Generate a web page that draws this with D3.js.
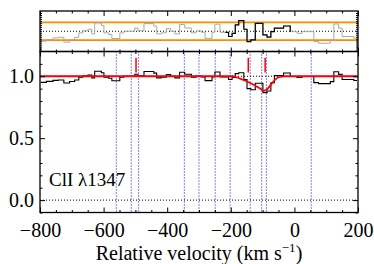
<!DOCTYPE html>
<html><head><meta charset="utf-8">
<script src="https://cdn.jsdelivr.net/npm/d3@7"></script>
<style>
html,body{margin:0;padding:0;background:#fff;}
svg{display:block;}
text{font-family:"Liberation Serif","Times New Roman",serif;fill:#000;}
</style></head>
<body>
<svg id="c" width="374" height="264"></svg>
<script>
// ---- data ----
const binEdges = [-798,-780,-759,-743,-725,-707,-691,-678,-665,-649,-637,-628,-607,-599,-584,-574,-549,-536,-502,-492,-473,-442,-433,-419,-403,-389,-376,-361,-345,-324,-309,-293,-281,-259,-250,-234,-217,-207,-196,-186,-175,-159,-149,-137,-123,-99,-86,-74,-63,-34,-13,8,24,61,76,113,124,139,150,187,197];
const flux = [0.951,0.959,0.967,0.970,0.946,0.958,0.970,0.992,1.003,1.010,0.987,1.041,1.029,0.992,0.984,0.964,0.992,1.000,1.016,1.003,1.038,1.025,0.987,0.992,1.013,1.000,0.987,1.033,1.016,0.992,1.002,0.995,0.965,0.995,1.035,0.995,0.994,0.974,0.990,1.021,1.029,0.973,0.900,0.891,0.944,0.868,0.881,0.948,1.005,1.026,0.998,0.990,0.998,0.949,0.941,0.957,1.036,1.015,0.974,0.966];
const residual = [-0.049,-0.041,-0.033,-0.030,-0.054,-0.042,-0.030,-0.008,0.003,0.010,-0.013,0.041,0.029,-0.008,-0.016,-0.036,-0.008,0.000,0.016,0.003,0.038,0.025,-0.013,-0.008,0.013,0.000,-0.013,0.033,0.016,-0.008,0.002,-0.005,-0.035,-0.005,0.035,-0.005,-0.006,-0.026,-0.010,0.031,0.052,0.010,-0.051,-0.043,0.039,-0.018,-0.029,-0.002,0.015,0.026,-0.002,-0.010,-0.002,-0.051,-0.059,-0.043,0.036,0.015,-0.026,-0.034];
const fitRange = [-217,-13];
const fitVel  = [-800,-195,-180,-165,-149,-128,-107,-96,-86,-70,-55,-40,-30,200];
const fitFlux = [1,1,0.99,0.975,0.958,0.931,0.899,0.883,0.895,0.945,0.985,0.998,1,1];
const componentVel = [-560,-513,-490,-346,-300,-249,-202,-139,-103,-88,53];
const markerVel = [-498,-145,-92];
const errBand = 0.044;
const xTicks = [-800,-600,-400,-200,0,200];
const yTicks = [0,0.5,1.0];
const lineLabel = "ClI λ1347";

// ---- layout ----
const L=40, R=358, mainTop=51.5, mainBot=212.5, topTop=11;
const svg=d3.select("#c");
const x=d3.scaleLinear([-800,200],[L,R]);
const y=d3.scaleLinear([-0.1,1.2],[mainBot,mainTop]);
const yr=d3.scaleLinear([-0.1,0.1],[mainTop,topTop]);

const defs=svg.append("defs");
defs.append("clipPath").attr("id","cm").append("rect").attr("x",L).attr("y",mainTop).attr("width",R-L).attr("height",mainBot-mainTop);
defs.append("clipPath").attr("id","ct").append("rect").attr("x",L).attr("y",topTop).attr("width",R-L).attr("height",mainTop-topTop);

const stepPts=(vals)=>{const p=vals.map((v,i)=>[binEdges[i],v]);p.push([binEdges[binEdges.length-1],vals[vals.length-1]]);return p;};

// ---- top residual panel ----
const gt=svg.append("g").attr("clip-path","url(#ct)");
gt.append("line").attr("x1",L).attr("x2",R).attr("y1",yr(0)).attr("y2",yr(0)).attr("stroke","#000").attr("stroke-dasharray","1,2");
[errBand,-errBand].forEach(e=>gt.append("line").attr("x1",L).attr("x2",R).attr("y1",yr(e)).attr("y2",yr(e)).attr("stroke","#ff8c00").attr("stroke-width",1.6));
const rl=d3.line().x(d=>x(d[0])).y(d=>yr(d[1])).curve(d3.curveStepAfter);
const rp=stepPts(residual);
gt.append("path").attr("d",rl(rp)).attr("fill","none").attr("stroke","#a8a8a8").attr("stroke-width",1);
const inFit=rp.filter((d,i)=>binEdges[i]>=fitRange[0]&&binEdges[i]<=fitRange[1]);
gt.append("path").attr("d",rl(inFit)).attr("fill","none").attr("stroke","#000").attr("stroke-width",1.2);

// ---- main panel ----
const gm=svg.append("g").attr("clip-path","url(#cm)");
componentVel.forEach(v=>gm.append("line").attr("x1",x(v)).attr("x2",x(v)).attr("y1",mainTop).attr("y2",mainBot).attr("stroke","#1a1aff").attr("stroke-width",1.1).attr("stroke-dasharray","1,2"));
[0,1].forEach(v=>gm.append("line").attr("x1",L).attr("x2",R).attr("y1",y(v)).attr("y2",y(v)).attr("stroke","#000").attr("stroke-dasharray","1,2"));
const sl=d3.line().x(d=>x(d[0])).y(d=>y(d[1])).curve(d3.curveStepAfter);
gm.append("path").attr("d",sl(stepPts(flux))).attr("fill","none").attr("stroke","#000").attr("stroke-width",1.1);
const fl=d3.line().x((d,i)=>x(fitVel[i])).y(d=>y(d)).curve(d3.curveMonotoneX);
gm.append("path").attr("d",fl(fitFlux)).attr("fill","none").attr("stroke","#ff0000").attr("stroke-width",1.8);
markerVel.forEach(v=>gm.append("line").attr("x1",x(v)).attr("x2",x(v)).attr("y1",y(1.15)).attr("y2",y(1.03)).attr("stroke","#ff0000").attr("stroke-width",1.5));

// ---- axes ----
function styleAxis(g){g.select(".domain").remove();g.selectAll("line").attr("stroke","#000");g.selectAll("text").attr("font-size",20).attr("font-family","Liberation Serif");}
const minorX=d3.range(-800,201,50).filter(v=>v%200!==0);
const mainBottom=svg.append("g").attr("transform",`translate(0,${mainBot})`);
mainBottom.append("g").call(d3.axisBottom(x).tickValues(xTicks).tickSize(-5).tickPadding(10).tickFormat(d3.format("d"))).call(styleAxis);
mainBottom.append("g").call(d3.axisBottom(x).tickValues(minorX).tickSize(-2.5).tickFormat("")).call(styleAxis);
[[mainTop,5,2.5],[topTop,5,2.5]].forEach(([yy,M,m])=>{
  const g=svg.append("g").attr("transform",`translate(0,${yy})`);
  g.append("g").call(d3.axisTop(x).tickValues(xTicks).tickSize(-M).tickFormat("")).call(styleAxis);
  g.append("g").call(d3.axisTop(x).tickValues(minorX).tickSize(-m).tickFormat("")).call(styleAxis);
});
const g2=svg.append("g").attr("transform",`translate(0,${mainTop})`);
g2.append("g").call(d3.axisBottom(x).tickValues(xTicks).tickSize(-4).tickFormat("")).call(styleAxis);
g2.append("g").call(d3.axisBottom(x).tickValues(minorX).tickSize(-2).tickFormat("")).call(styleAxis);

const minorY=d3.range(-1,12).map(v=>v/10).filter(v=>Math.abs(v*2-Math.round(v*2))>1e-6);
const ly=svg.append("g").attr("transform",`translate(${L},0)`);
ly.append("g").call(d3.axisLeft(y).tickValues(yTicks).tickSize(-5).tickPadding(6).tickFormat(d3.format(".1f"))).call(styleAxis);
ly.append("g").call(d3.axisLeft(y).tickValues(minorY).tickSize(-2.5).tickFormat("")).call(styleAxis);
const ry=svg.append("g").attr("transform",`translate(${R},0)`);
ry.append("g").call(d3.axisRight(y).tickValues(yTicks).tickSize(-5).tickFormat("")).call(styleAxis);
ry.append("g").call(d3.axisRight(y).tickValues(minorY).tickSize(-2.5).tickFormat("")).call(styleAxis);
const rTicks=d3.range(-9,10).map(v=>v/100);
svg.append("g").attr("transform",`translate(${L},0)`).call(d3.axisLeft(yr).tickValues(rTicks).tickSize(-2).tickFormat("")).call(styleAxis);
svg.append("g").attr("transform",`translate(${R},0)`).call(d3.axisRight(yr).tickValues(rTicks).tickSize(-2).tickFormat("")).call(styleAxis);

// frames
[[topTop,mainTop],[mainTop,mainBot]].forEach(([a,b])=>svg.append("rect").attr("x",L).attr("y",a).attr("width",R-L).attr("height",b-a).attr("fill","none").attr("stroke","#000").attr("stroke-width",1.3));

// labels
svg.append("text").attr("x",49).attr("y",186).attr("font-size",19).text(lineLabel);
const t=svg.append("text").attr("x",(L+R)/2).attr("y",260).attr("text-anchor","middle").attr("font-size",20);
t.append("tspan").text("Relative velocity (km s");
t.append("tspan").attr("font-size",13).attr("dy",-8).text("−1");
t.append("tspan").attr("dy",8).text(")");
</script>
</body></html>
